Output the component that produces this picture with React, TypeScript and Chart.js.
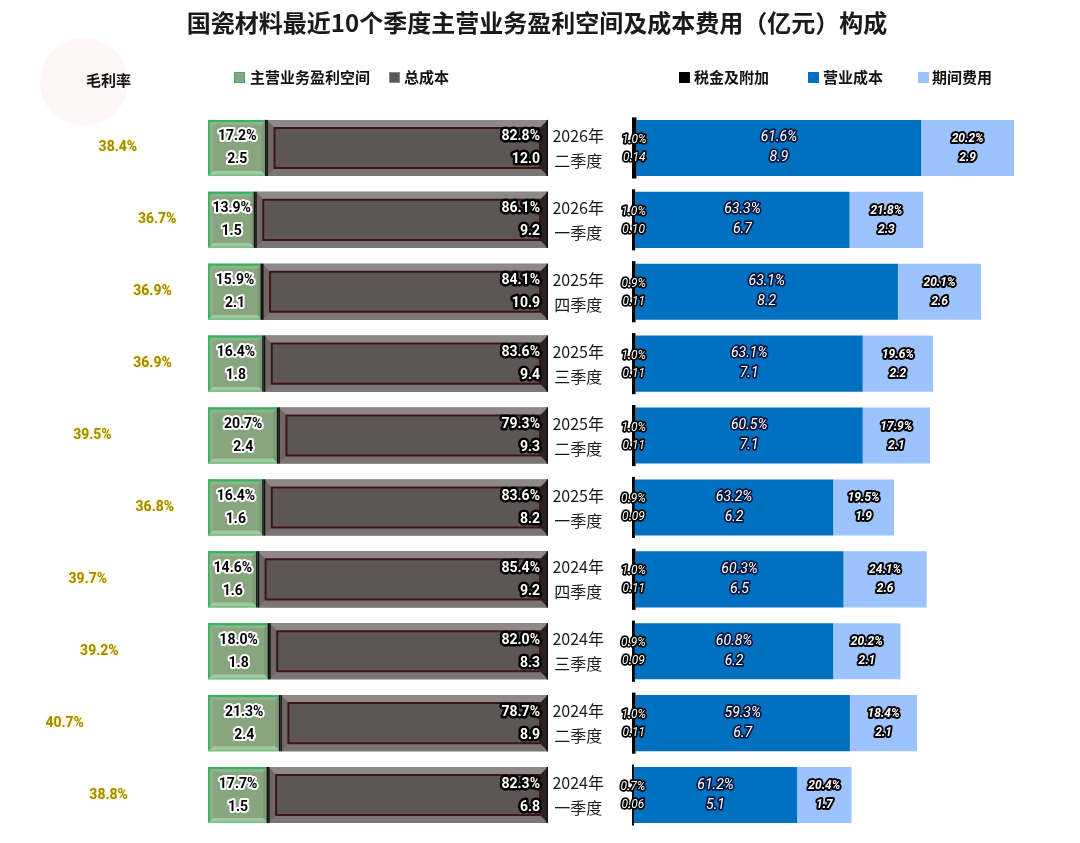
import React, { useEffect, useRef } from "react";
import { Chart, registerables } from "chart.js";

Chart.register(...registerables);

// ---------------- data ----------------
const categoryYears = ["2026年", "2026年", "2025年", "2025年", "2025年", "2025年", "2024年", "2024年", "2024年", "2024年"];
const categoryQuarters = ["二季度", "一季度", "四季度", "三季度", "二季度", "一季度", "四季度", "三季度", "二季度", "一季度"];
const grossMargin = [38.4, 36.7, 36.9, 36.9, 39.5, 36.8, 39.7, 39.2, 40.7, 38.8];
const profitPct = [17.2, 13.9, 15.9, 16.4, 20.7, 16.4, 14.6, 18.0, 21.3, 17.7];
const profitAmt = [2.5, 1.5, 2.1, 1.8, 2.4, 1.6, 1.6, 1.8, 2.4, 1.5];
const totalCostPct = [82.8, 86.1, 84.1, 83.6, 79.3, 83.6, 85.4, 82.0, 78.7, 82.3];
const totalCostAmt = [12.0, 9.2, 10.9, 9.4, 9.3, 8.2, 9.2, 8.3, 8.9, 6.8];
const taxPct = [1.0, 1.0, 0.9, 1.0, 1.0, 0.9, 1.0, 0.9, 1.0, 0.7];
const taxAmt = [0.14, 0.10, 0.11, 0.11, 0.11, 0.09, 0.11, 0.09, 0.11, 0.06];
const opCostPct = [61.6, 63.3, 63.1, 63.1, 60.5, 63.2, 60.3, 60.8, 59.3, 61.2];
const opCostAmt = [8.9, 6.7, 8.2, 7.1, 7.1, 6.2, 6.5, 6.2, 6.7, 5.1];
const expensePct = [20.2, 21.8, 20.1, 19.6, 17.9, 19.5, 24.1, 20.2, 18.4, 20.4];
const expenseAmt = [2.9, 2.3, 2.6, 2.2, 2.1, 1.9, 2.6, 2.1, 2.1, 1.7];

const categories = categoryYears.map((y, i) => y + categoryQuarters[i]);

const NUM_FONT = "Roboto, 'Noto Sans', sans-serif";
const CJK_FONT = "'Noto Sans CJK SC', 'Noto Sans', sans-serif";

// ---------------- drawing helpers ----------------
function haloText(
  ctx: CanvasRenderingContext2D,
  text: string,
  x: number,
  y: number,
  font: string,
  fill: string,
  stroke: string,
  lw: number,
  align: CanvasTextAlign = "center"
) {
  ctx.font = font;
  ctx.textAlign = align;
  ctx.textBaseline = "middle";
  ctx.lineJoin = "round";
  ctx.lineWidth = lw;
  ctx.strokeStyle = stroke;
  ctx.strokeText(text, x, y);
  ctx.fillStyle = fill;
  ctx.fillText(text, x, y);
}

function poly(ctx: CanvasRenderingContext2D, pts: number[][], color: string) {
  ctx.beginPath();
  ctx.moveTo(pts[0][0], pts[0][1]);
  for (let i = 1; i < pts.length; i++) ctx.lineTo(pts[i][0], pts[i][1]);
  ctx.closePath();
  ctx.fillStyle = color;
  ctx.fill();
}

function bevel(
  ctx: CanvasRenderingContext2D,
  l: number,
  t: number,
  r: number,
  b: number,
  d: number,
  c: { top: string; left: string; bottom: string; right: string }
) {
  poly(ctx, [[l, t], [r, t], [r - d, t + d], [l + d, t + d]], c.top);
  poly(ctx, [[l, b], [r, b], [r - d, b - d], [l + d, b - d]], c.bottom);
  poly(ctx, [[l, t], [l + d, t + d], [l + d, b - d], [l, b]], c.left);
  poly(ctx, [[r, t], [r - d, t + d], [r - d, b - d], [r, b]], c.right);
}

const overlayPlugin = {
  id: "overlayLabels",
  afterDatasetsDraw(chart: any) {
    const ctx: CanvasRenderingContext2D = chart.ctx;
    ctx.save();

    // left: profit space (green)
    chart.getDatasetMeta(0).data.forEach((el: any, i: number) => {
      const { x, y, base, height } = el.getProps(["x", "y", "base", "height"], true);
      const t = y - height / 2;
      const b = y + height / 2;
      bevel(ctx, base, t, x, b, 5, {
        top: "#93B28A",
        left: "#8FAE87",
        bottom: "#A6C69C",
        right: "#7D9A76",
      });
      ctx.fillStyle = "#2FB45F";
      ctx.fillRect(base, t, x - base, 2);
      ctx.fillRect(base, t, 1.5, b - t);
      ctx.fillStyle = "#6CC58A";
      ctx.fillRect(base, b - 1.5, x - base, 1.5);
      ctx.fillStyle = "#101010";
      ctx.fillRect(x - 1.5, t, 1.5, b - t);
      const cx = (base + x) / 2;
      haloText(ctx, profitPct[i].toFixed(1) + "%", cx, y - 11, `bold 14px ${NUM_FONT}`, "#000", "#fff", 4);
      haloText(ctx, profitAmt[i].toFixed(1), cx, y + 12, `bold 14px ${NUM_FONT}`, "#000", "#fff", 4);
    });

    // left: total cost (dark)
    chart.getDatasetMeta(1).data.forEach((el: any, i: number) => {
      const { x, y, base, height } = el.getProps(["x", "y", "base", "height"], true);
      const t = y - height / 2;
      const b = y + height / 2;
      const d = 8;
      bevel(ctx, base, t, x, b, d, {
        top: "#8E8888",
        left: "#6F6767",
        bottom: "#7C7575",
        right: "#2B2222",
      });
      ctx.strokeStyle = "#3E1515";
      ctx.lineWidth = 2;
      ctx.strokeRect(base + d, t + d, x - base - 2 * d, b - t - 2 * d);
      ctx.fillStyle = "#141010";
      ctx.fillRect(x - 1.5, t, 1.5, b - t);
      ctx.fillRect(base, t, 1.5, b - t);
      haloText(ctx, totalCostPct[i].toFixed(1) + "%", x - 8, y - 11, `bold 14px ${NUM_FONT}`, "#fff", "#000", 5, "right");
      haloText(ctx, totalCostAmt[i].toFixed(1), x - 8, y + 12, `bold 14px ${NUM_FONT}`, "#fff", "#000", 5, "right");
    });

    // right: tax
    chart.getDatasetMeta(2).data.forEach((el: any, i: number) => {
      const { x, y, base } = el.getProps(["x", "y", "base"], true);
      const cx = (base + x) / 2;
      haloText(ctx, taxPct[i].toFixed(1) + "%", cx, y - 8, `italic 12px ${NUM_FONT}`, "#fff", "#000", 3.5);
      haloText(ctx, taxAmt[i].toFixed(2), cx, y + 10, `italic 12px ${NUM_FONT}`, "#fff", "#000", 3.5);
    });

    // right: operating cost
    chart.getDatasetMeta(3).data.forEach((el: any, i: number) => {
      const { x, y, base } = el.getProps(["x", "y", "base"], true);
      const cx = (base + x) / 2;
      haloText(ctx, opCostPct[i].toFixed(1) + "%", cx, y - 10, `italic 14px ${NUM_FONT}`, "#fff", "#06163F", 3.5);
      haloText(ctx, opCostAmt[i].toFixed(1), cx, y + 10, `italic 14px ${NUM_FONT}`, "#fff", "#06163F", 3.5);
    });

    // right: period expense
    chart.getDatasetMeta(4).data.forEach((el: any, i: number) => {
      const { x, y, base } = el.getProps(["x", "y", "base"], true);
      const cx = (base + x) / 2;
      haloText(ctx, expensePct[i].toFixed(1) + "%", cx, y - 9, `italic bold 12px ${NUM_FONT}`, "#fff", "#000", 4);
      haloText(ctx, expenseAmt[i].toFixed(1), cx, y + 10, `italic bold 12px ${NUM_FONT}`, "#fff", "#000", 4);
    });

    // gross margin labels at scatter points
    chart.getDatasetMeta(5).data.forEach((el: any, i: number) => {
      const { x, y } = el.getProps(["x", "y"], true);
      ctx.font = `bold 14px ${NUM_FONT}`;
      ctx.textAlign = "center";
      ctx.textBaseline = "middle";
      ctx.shadowColor = "rgba(255,230,80,0.8)";
      ctx.shadowBlur = 3;
      ctx.fillStyle = "#A08A00";
      ctx.fillText(grossMargin[i].toFixed(1) + "%", x, y);
      ctx.shadowBlur = 0;
      ctx.shadowColor = "transparent";
    });

    // category labels in the gap
    const yS = chart.scales.y;
    const gap = chart.scales.xGap;
    const cx = gap.getPixelForValue(0.36);
    categories.forEach((_c, i) => {
      const cy = yS.getPixelForValue(i);
      ctx.font = `16px ${CJK_FONT}`;
      ctx.textAlign = "center";
      ctx.textBaseline = "middle";
      ctx.fillStyle = "#1A1A1A";
      ctx.fillText(categoryYears[i], cx, cy - 12);
      ctx.fillText(categoryQuarters[i], cx, cy + 13);
    });

    ctx.restore();
  },
};

// ---------------- component ----------------
export default function App() {
  const canvasRef = useRef<HTMLCanvasElement | null>(null);

  useEffect(() => {
    if (!canvasRef.current) return;
    const chart = new Chart(canvasRef.current, {
      type: "bar",
      data: {
        labels: categories,
        datasets: [
          {
            label: "主营业务盈利空间",
            data: profitPct,
            xAxisID: "xL",
            yAxisID: "y",
            backgroundColor: "#87A57F",
            barPercentage: 0.78,
            categoryPercentage: 1,
          },
          {
            label: "总成本",
            data: totalCostPct,
            xAxisID: "xL",
            yAxisID: "y",
            backgroundColor: "#5E5555",
            barPercentage: 0.78,
            categoryPercentage: 1,
          },
          {
            label: "税金及附加",
            data: taxAmt,
            xAxisID: "xR",
            yAxisID: "y",
            backgroundColor: "#000000",
            barPercentage: 0.85,
            categoryPercentage: 1,
          },
          {
            label: "营业成本",
            data: opCostAmt,
            xAxisID: "xR",
            yAxisID: "y",
            backgroundColor: "#0070C0",
            barPercentage: 0.78,
            categoryPercentage: 1,
          },
          {
            label: "期间费用",
            data: expenseAmt,
            xAxisID: "xR",
            yAxisID: "y",
            backgroundColor: "#9DC3FF",
            barPercentage: 0.78,
            categoryPercentage: 1,
          },
          {
            type: "scatter",
            label: "毛利率",
            data: grossMargin.map((v, i) => ({ x: v, y: categories[i] })),
            xAxisID: "xG",
            yAxisID: "y",
            indexAxis: "y",
            pointRadius: 0,
            pointHoverRadius: 0,
            backgroundColor: "#A08A00",
          } as any,
        ],
      },
      options: {
        indexAxis: "y",
        responsive: false,
        animation: false,
        events: [],
        layout: { padding: { top: 112, bottom: 12, left: 0, right: 32 } },
        plugins: {
          legend: { display: false },
          tooltip: { enabled: false },
          title: { display: false },
        },
        scales: {
          y: { type: "category", display: false, stacked: true, offset: true },
          xG: {
            type: "linear",
            position: "bottom",
            stack: "row",
            stackWeight: 208,
            weight: 1,
            min: 34.5,
            max: 43.5,
            reverse: true,
            display: false,
          },
          xL: {
            type: "linear",
            position: "bottom",
            stack: "row",
            stackWeight: 340,
            weight: 2,
            min: 0,
            max: 100,
            stacked: true,
            display: false,
          },
          xGap: {
            type: "linear",
            position: "bottom",
            stack: "row",
            stackWeight: 84,
            weight: 3,
            min: 0,
            max: 1,
            display: false,
          },
          xR: {
            type: "linear",
            position: "bottom",
            stack: "row",
            stackWeight: 416,
            weight: 4,
            min: 0,
            max: 13,
            stacked: true,
            display: false,
          },
        } as any,
      },
      plugins: [overlayPlugin],
    } as any);
    return () => chart.destroy();
  }, []);

  const legendText: React.CSSProperties = {
    position: "absolute",
    font: `bold 15px ${CJK_FONT}`,
    color: "#111",
    lineHeight: "20px",
    whiteSpace: "nowrap",
  };
  const marker = (left: number, bg: string, border: string): React.CSSProperties => ({
    position: "absolute",
    left,
    top: 72,
    width: 11,
    height: 11,
    background: bg,
    boxSizing: "border-box",
    border: `1.5px solid ${border}`,
  });

  return (
    <div style={{ position: "absolute", left: 0, top: 0, width: 1080, height: 843, background: "#fff", overflow: "hidden" }}>
      <div
        style={{
          position: "absolute",
          left: 40,
          top: 38,
          width: 88,
          height: 88,
          borderRadius: "50%",
          background: "rgba(250,215,215,0.22)",
        }}
      />
      <canvas ref={canvasRef} width={1080} height={843} style={{ position: "absolute", left: 0, top: 0 }} />
      <div
        style={{
          position: "absolute",
          left: 0,
          top: 6,
          width: 1074,
          textAlign: "center",
          font: `bold 24px ${CJK_FONT}`,
          color: "#1A1A1A",
          lineHeight: "32px",
        }}
      >
        国瓷材料最近10个季度主营业务盈利空间及成本费用（亿元）构成
      </div>
      <div style={{ ...legendText, left: 86, top: 70 }}>毛利率</div>

      <div style={marker(234, "#87A57F", "#2FB45F")} />
      <div style={{ ...legendText, left: 250, top: 67 }}>主营业务盈利空间</div>
      <div style={marker(389, "#5E5555", "#8E8888")} />
      <div style={{ ...legendText, left: 404, top: 67 }}>总成本</div>

      <div style={marker(679, "#000000", "#000000")} />
      <div style={{ ...legendText, left: 694, top: 67 }}>税金及附加</div>
      <div style={marker(808, "#0070C0", "#0070C0")} />
      <div style={{ ...legendText, left: 823, top: 67 }}>营业成本</div>
      <div style={marker(918, "#9DC3FF", "#9DC3FF")} />
      <div style={{ ...legendText, left: 932, top: 67 }}>期间费用</div>
    </div>
  );
}
